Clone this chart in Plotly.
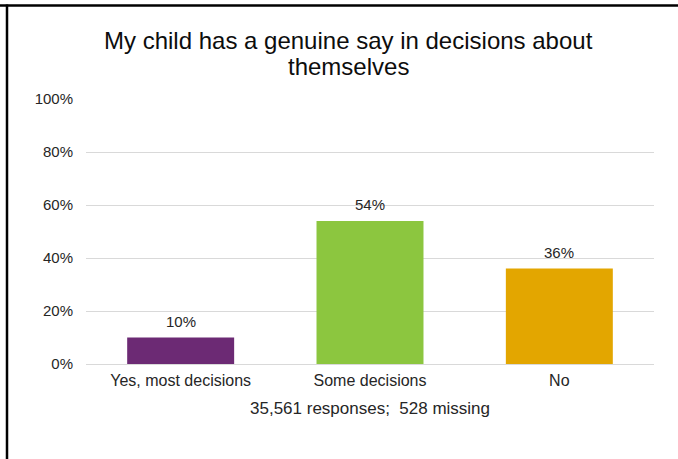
import plotly.graph_objects as go

# Survey responses
categories = ["Yes, most decisions", "Some decisions", "No"]
percentages = [10, 54, 36]
bar_colors = ["#6C2A74", "#8CC63F", "#E3A600"]
y_ticks = [0, 20, 40, 60, 80, 100]
title_lines = ["My child has a genuine say in decisions about", "themselves"]
footnote = "35,561 responses;  528 missing"

W, H = 678, 459
ML, MR, MT, MB = 86, 24, 99, 95
PW, PH = W - ML - MR, H - MT - MB

FONT = "Liberation Sans, Arial, sans-serif"
TXT = "#262626"

fig = go.Figure(
    go.Bar(
        x=categories,
        y=percentages,
        marker=dict(color=bar_colors, line=dict(width=0)),
        cliponaxis=False,
        hoverinfo="skip",
    )
)

def px_x(px):
    return (px - ML) / PW

def px_y(py):
    return (H - MB - py) / PH

# value labels above each bar
annotations = [
    dict(text=f"{v}%", x=c, y=v, xref="x", yref="y",
         yanchor="middle", yshift=16, showarrow=False,
         font=dict(family=FONT, size=15, color=TXT))
    for c, v in zip(categories, percentages)
]
annotations += [
    dict(text=line, xref="paper", yref="paper",
         x=px_x(348), y=px_y(py), xanchor="center", yanchor="middle",
         showarrow=False, font=dict(family=FONT, size=24, color="#0d0d0d"))
    for line, py in zip(title_lines, [40, 66])
]
annotations.append(
    dict(text=footnote, xref="paper", yref="paper",
         x=0.5, y=px_y(408), xanchor="center", yanchor="middle",
         showarrow=False, font=dict(family=FONT, size=17, color=TXT))
)

fig.update_layout(
    width=W,
    height=H,
    margin=dict(l=ML, r=MR, t=MT, b=MB),
    paper_bgcolor="white",
    plot_bgcolor="white",
    bargap=0.435,
    showlegend=False,
    font=dict(family=FONT, size=15, color=TXT),
    xaxis=dict(
        showline=False,
        showgrid=False,
        ticks="",
        ticklabelstandoff=5,
        tickfont=dict(family=FONT, size=16, color=TXT),
    ),
    yaxis=dict(
        range=[0, 100],
        tickvals=y_ticks,
        ticktext=[f"{v}%" for v in y_ticks],
        showgrid=True,
        gridcolor="#d9d9d9",
        gridwidth=1,
        zeroline=True,
        zerolinecolor="#d9d9d9",
        zerolinewidth=1,
        showline=False,
        ticks="",
        ticklabelstandoff=12,
        tickfont=dict(family=FONT, size=15, color=TXT),
    ),
    annotations=annotations,
    shapes=[
        # frame edges: top and left
        dict(type="line", xref="paper", yref="paper",
             x0=px_x(0), x1=px_x(W), y0=px_y(5.5), y1=px_y(5.5),
             line=dict(color="black", width=2.5)),
        dict(type="line", xref="paper", yref="paper",
             x0=px_x(7), x1=px_x(7), y0=px_y(4.5), y1=px_y(H),
             line=dict(color="black", width=2.5)),
    ],
)

fig.write_html("out.html")
